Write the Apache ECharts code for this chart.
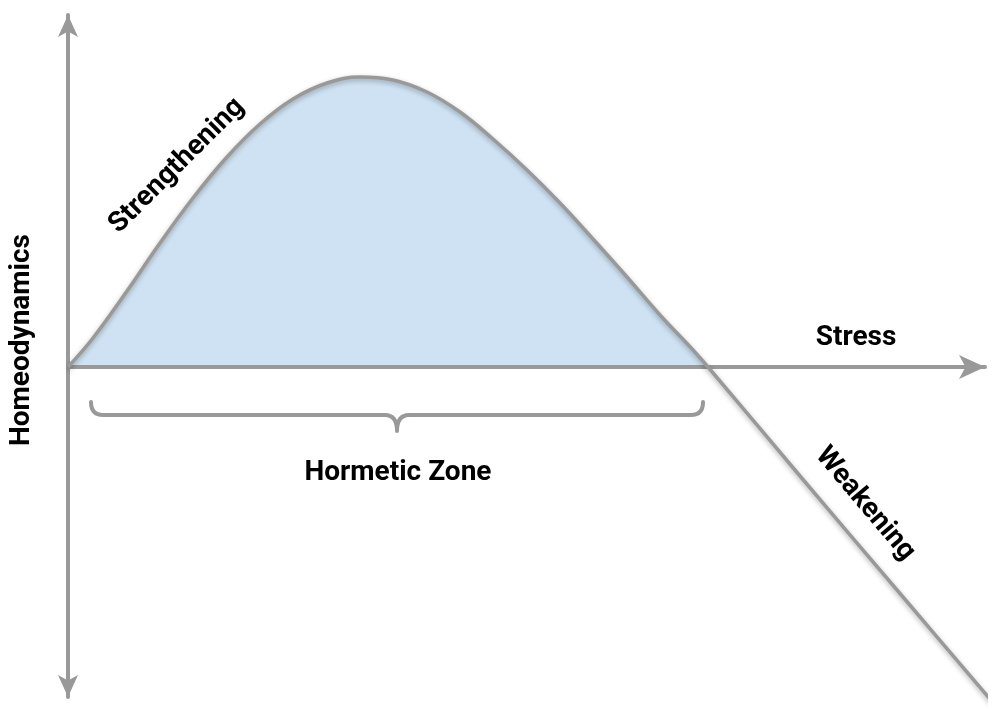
<!DOCTYPE html>
<head>
  <meta charset="utf-8">
  <title>Hormesis</title>
  <script src="https://cdn.jsdelivr.net/npm/echarts@6/dist/echarts.min.js"></script>
  <style>
    html, body { margin: 0; padding: 0; background: #fff; }
  </style>
</head>
<body>
  <div id="main" style="width: 1007px;height:709px;"></div>
  <script>
    // curve: stress (x) vs homeodynamics (y)
    var stress = [0, 2.5, 5.9, 9.2, 12.5, 15.9, 19.2, 22.5, 25.9, 29.2, 32.5, 35.9, 39.2, 42.5, 45.9, 49.2, 52.5, 55.9, 59.2, 62.5, 64, 73.2, 83.5, 92.7];
    var response = [0, 2.9, 7.6, 12.4, 16.9, 21, 24.3, 26.8, 28.4, 29, 28.7, 27.5, 25.5, 22.8, 19.7, 16.4, 12.8, 9, 5.2, 1.7, 0, -10.9, -23, -33.8];
    var zeroCross = 64;

    // brace under the hormetic zone
    var braceFrom = 2.3, braceTo = 63.5;
    var braceEnds = -3.5, braceLine = -4.8, braceTip = -6.4;

    var labels = {
      yName: 'Homeodynamics',
      xName: 'Stress',
      zone: 'Hormetic Zone',
      up: 'Strengthening',
      down: 'Weakening'
    };

    var curve = stress.map(function (x, i) { return [x, response[i]]; });
    var hump = curve.filter(function (p) { return p[0] <= zeroCross; });

    var grey = '#999999';
    var font = 'bold 28px Roboto, "Noto Sans", sans-serif';

    var myChart = echarts.init(document.getElementById('main'));

    var option = {
      animation: false,
      grid: { left: 68, right: 22, top: 15, bottom: 12 },
      xAxis: {
        type: 'value', min: 0, max: 91.7, z: 3,
        axisLine: { onZero: true, symbol: ['none', 'arrow'], symbolSize: [18, 26],
          lineStyle: { color: grey, width: 4 } },
        axisTick: { show: false }, axisLabel: { show: false }, splitLine: { show: false }
      },
      yAxis: {
        type: 'value', min: -33, max: 35.2, z: 3,
        axisLine: { symbol: ['arrow', 'arrow'], symbolSize: [15, 22],
          lineStyle: { color: grey, width: 4 } },
        axisTick: { show: false }, axisLabel: { show: false }, splitLine: { show: false }
      },
      graphic: [
        { type: 'text', x: 22, y: 340, rotation: Math.PI / 2,
          style: { text: labels.yName, font: font, fill: '#000', align: 'center', verticalAlign: 'middle' } },
        { type: 'text', x: 856, y: 338,
          style: { text: labels.xName, font: font, fill: '#000', align: 'center', verticalAlign: 'middle' } },
        { type: 'text', x: 398, y: 473,
          style: { text: labels.zone, font: font, fill: '#000', align: 'center', verticalAlign: 'middle' } },
        { type: 'text', x: 177, y: 166, rotation: Math.PI / 4,
          style: { text: labels.up, font: font, fill: '#000', align: 'center', verticalAlign: 'middle' } },
        { type: 'text', x: 865, y: 504, rotation: -0.87,
          style: { text: labels.down, font: font, fill: '#000', align: 'center', verticalAlign: 'middle' } }
      ],
      series: [
        {
          type: 'line', data: hump, smooth: 0.4, symbol: 'none', z: 1,
          lineStyle: { width: 0, opacity: 0 },
          areaStyle: { color: '#cfe2f3', opacity: 1 }
        },
        {
          type: 'line', data: curve, smooth: 0.4, symbol: 'none', z: 4, clip: false,
          lineStyle: { color: grey, width: 3.5, shadowColor: 'rgba(0,0,0,0.3)', shadowBlur: 5, shadowOffsetY: 2 }
        },
        {
          type: 'custom', z: 4, clip: false,
          data: [[braceFrom, braceTo, braceEnds, braceLine, braceTip]],
          renderItem: function (params, api) {
            var a = api.coord([api.value(0), api.value(2)]);
            var b = api.coord([api.value(1), api.value(3)]);
            var t = api.coord([(api.value(0) + api.value(1)) / 2, api.value(4)]);
            var x1 = a[0], x2 = b[0], yE = a[1], yL = b[1], xc = t[0], yT = t[1];
            var r = 12;
            var d = 'M' + x1 + ' ' + yE +
              ' Q' + x1 + ' ' + yL + ' ' + (x1 + r) + ' ' + yL +
              ' L' + (xc - r) + ' ' + yL +
              ' Q' + xc + ' ' + yL + ' ' + xc + ' ' + yT +
              ' Q' + xc + ' ' + yL + ' ' + (xc + r) + ' ' + yL +
              ' L' + (x2 - r) + ' ' + yL +
              ' Q' + x2 + ' ' + yL + ' ' + x2 + ' ' + yE;
            return {
              type: 'path',
              shape: { pathData: d },
              style: { fill: null, stroke: grey, lineWidth: 4, lineCap: 'round', lineJoin: 'round' }
            };
          }
        }
      ]
    };

    myChart.setOption(option);
  </script>
</body>
